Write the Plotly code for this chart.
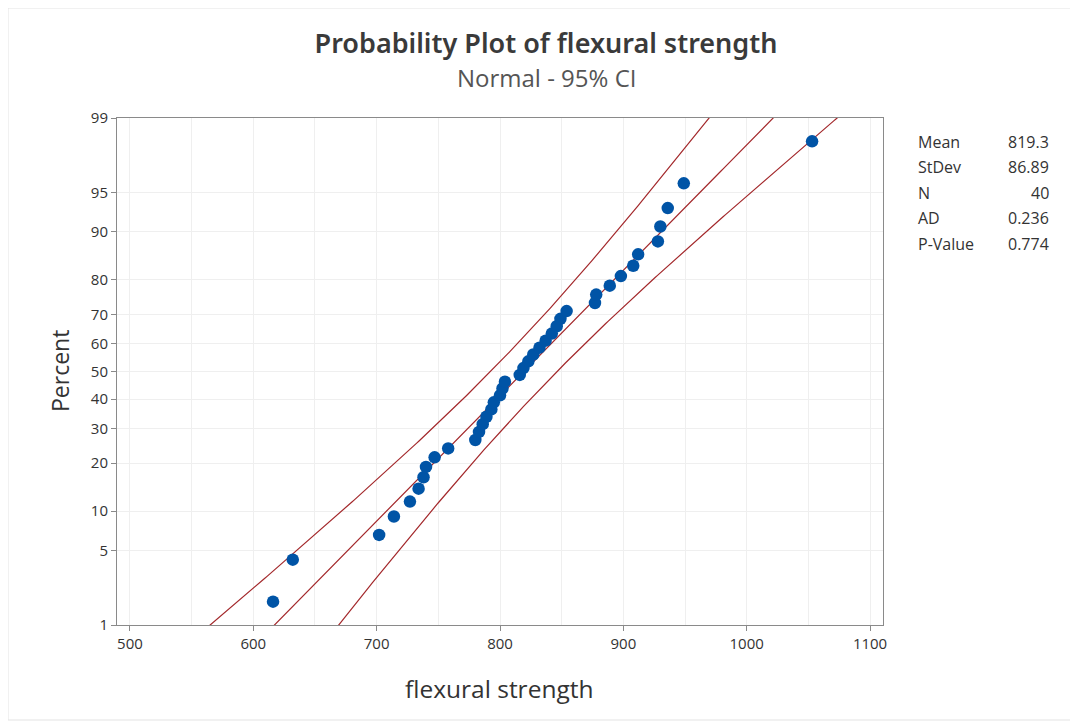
import plotly.graph_objects as go
from statistics import NormalDist
import math

# ---- data ----
strength = [616, 632, 702, 714, 727, 734, 738, 740, 747, 758,
            780, 783, 786, 789, 793, 795, 800, 802, 804, 816,
            819, 823, 827, 832, 837, 842, 846, 849, 854, 877,
            878, 889, 898, 908, 912, 928, 930, 936, 949, 1053]
mean_val = 819.3
stdev_val = 86.89
n_val = 40
ad_val = 0.236
p_val = 0.774

stat_labels = ["Mean", "StDev", "N", "AD", "P-Value"]
stat_values = ["819.3", "86.89", "40", "0.236", "0.774"]

pct_ticks = [1, 5, 10, 20, 30, 40, 50, 60, 70, 80, 90, 95, 99]
x_ticks = [500, 600, 700, 800, 900, 1000, 1100]

nd = NormalDist()
n = len(strength)
xs = sorted(strength)
pp = [(i + 1 - 0.3) / (n + 0.4) for i in range(n)]
zs = [nd.inv_cdf(p) for p in pp]

# fitted line and 95% CI from mean/stdev
zgrid = [-3.2 + k * 0.02 for k in range(321)]
fit = [mean_val + stdev_val * z for z in zgrid]
half = [1.959964 * stdev_val / math.sqrt(n_val) * math.sqrt(1 + z * z / 2) for z in zgrid]
lo = [f - h for f, h in zip(fit, half)]
hi = [f + h for f, h in zip(fit, half)]

# page offset (browser body margin)
OFF = 8
W, H = 1078 - OFF, 723 - OFF
PL, PR, PT, PB = 117 - OFF, 883 - OFF, 118 - OFF, 625 - OFF
PW, PH = PR - PL, PB - PT


def px(x):
    return (x - OFF - PL) / PW


def py(y):
    return (PB - (y - OFF)) / PH


red = "#A3282B"
fig = go.Figure()
for xx in (lo, fit, hi):
    fig.add_trace(go.Scatter(x=xx, y=zgrid, mode="lines",
                             line=dict(color=red, width=1.2),
                             hoverinfo="skip", showlegend=False))
fig.add_trace(go.Scatter(x=xs, y=zs, mode="markers",
                         marker=dict(color="#0054A6", size=12.5, line=dict(width=0)),
                         showlegend=False))

ymin = nd.inv_cdf(0.01)
ymax = nd.inv_cdf(0.99)

font_fam = "Open Sans, Noto Sans, sans-serif"
fig.update_layout(
    width=W, height=H,
    margin=dict(l=PL, r=W - PR, t=PT, b=H - PB),
    paper_bgcolor="white", plot_bgcolor="white",
    font=dict(family=font_fam, color="#333333", size=14),
    title=dict(text="Probability Plot of flexural strength",
               x=(546 - OFF) / W, xanchor="center", y=1 - (44 - OFF) / H, yanchor="middle",
               xref="container", yref="container",
               font=dict(size=27, color="#3a3a3a", family="Noto Sans, Open Sans, sans-serif",
                         weight=600)),
)
fig.update_xaxes(range=[489.5, 1110.5], tickvals=x_ticks,
                 ticks="outside", ticklen=5, tickcolor="#8a8a8a",
                 showline=True, linecolor="#8a8a8a", linewidth=1, mirror=True,
                 showgrid=True, gridcolor="#efefef", gridwidth=1,
                 minor=dict(dtick=50, tick0=500, showgrid=True, gridcolor="#efefef"),
                 zeroline=False, tickfont=dict(size=15))
fig.update_yaxes(range=[ymin, ymax],
                 tickvals=[nd.inv_cdf(p / 100) for p in pct_ticks],
                 ticktext=[str(p) for p in pct_ticks],
                 ticks="outside", ticklen=5, tickcolor="#8a8a8a",
                 showline=True, linecolor="#8a8a8a", linewidth=1, mirror=True,
                 showgrid=True, gridcolor="#efefef", zeroline=False,
                 tickfont=dict(size=15))

# subtitle and axis titles
fig.add_annotation(text="Normal - 95% CI", xref="paper", yref="paper",
                   x=px(546), y=py(77), showarrow=False,
                   xanchor="center", yanchor="middle",
                   font=dict(size=24, color="#555555"))
fig.add_annotation(text="flexural strength", xref="paper", yref="paper",
                   x=px(499), y=py(688), showarrow=False,
                   xanchor="center", yanchor="middle",
                   font=dict(size=24.5, color="#333333"))
fig.add_annotation(text="Percent", xref="paper", yref="paper",
                   x=px(60), y=py(371), showarrow=False,
                   xanchor="center", yanchor="middle", textangle=-90,
                   font=dict(size=23, color="#333333"))

# stats table
rows_y = [142, 167, 193, 218, 244]
for lab, val, ry in zip(stat_labels, stat_values, rows_y):
    fig.add_annotation(text=lab, xref="paper", yref="paper", x=px(916), y=py(ry),
                       xanchor="left", yanchor="middle", showarrow=False,
                       font=dict(size=16, color="#333333"))
    fig.add_annotation(text=val, xref="paper", yref="paper", x=px(1051), y=py(ry),
                       xanchor="right", yanchor="middle", showarrow=False,
                       font=dict(size=16, color="#333333"))

# outer frame (visible parts)
fig.add_shape(type="rect", xref="paper", yref="paper",
              x0=px(8), x1=px(1075), y0=py(720), y1=py(8),
              line=dict(color="#e3e3e3", width=1), fillcolor="rgba(0,0,0,0)")

fig.write_html("out.html")
